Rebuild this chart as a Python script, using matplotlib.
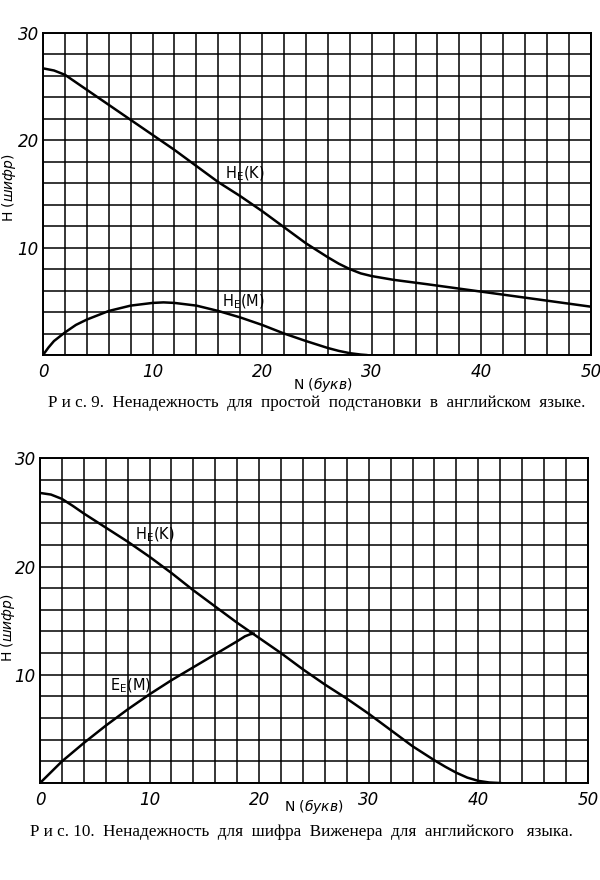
import numpy as np
import matplotlib.pyplot as plt
from matplotlib.ticker import MultipleLocator, FixedLocator

plt.rcParams['font.family'] = ['Liberation Sans Narrow', 'DejaVu Sans']

# Рис. 9: простая подстановка
n1_k = [0, 1, 2, 3, 4, 6, 8, 10, 12, 14, 16, 18, 20, 22, 24, 26, 27, 28, 29, 30, 32, 35, 40, 45, 50]
h1_k = [26.7, 26.5, 26.1, 25.4, 24.7, 23.3, 21.9, 20.5, 19.1, 17.6, 16.1, 14.8, 13.4,
        11.9, 10.4, 9.1, 8.5, 8.0, 7.6, 7.35, 7.0, 6.6, 5.9, 5.2, 4.5]
n1_m = [0, 0.5, 1, 2, 3, 4, 6, 8, 10, 11, 12, 14, 16, 18, 20, 22, 24, 26, 27, 28, 29, 29.5]
h1_m = [0, 0.7, 1.3, 2.1, 2.8, 3.3, 4.1, 4.6, 4.85, 4.9, 4.85, 4.6, 4.1, 3.5, 2.8, 2.0, 1.3,
        0.65, 0.38, 0.17, 0.04, 0.0]

# Рис. 10: шифр Виженера
n2_k = [0, 1, 2, 3, 4, 6, 8, 10, 12, 14, 16, 18, 20, 22, 24, 26, 28, 30, 32, 34, 36, 37, 38,
        39, 40, 41, 42]
h2_k = [26.8, 26.65, 26.25, 25.6, 24.9, 23.6, 22.3, 20.9, 19.4, 17.8, 16.3, 14.8, 13.4,
        12.0, 10.5, 9.1, 7.8, 6.4, 4.9, 3.4, 2.1, 1.5, 0.95, 0.5, 0.2, 0.05, 0.0]
n2_m = [0, 1, 2, 4, 6, 8, 10, 12, 14, 16, 18, 18.7, 19.2, 19.5]
h2_m = [0, 1.0, 2.0, 3.7, 5.3, 6.8, 8.2, 9.5, 10.7, 11.9, 13.1, 13.55, 13.75, 13.8]

x_ticks = [0, 10, 20, 30, 40, 50]
y_ticks = [10, 20, 30]

fig = plt.figure(figsize=(6, 8.8), dpi=100)
ax1 = fig.add_axes([0.0717, 0.5966, 0.913, 0.366])
ax2 = fig.add_axes([0.0667, 0.1102, 0.913, 0.369])

def setup(ax):
    ax.set_xlim(0, 50)
    ax.set_ylim(0, 30)
    ax.xaxis.set_major_locator(FixedLocator(x_ticks))
    ax.yaxis.set_major_locator(FixedLocator(y_ticks))
    ax.xaxis.set_minor_locator(MultipleLocator(2))
    ax.yaxis.set_minor_locator(MultipleLocator(2))
    ax.grid(which='both', color='black', linewidth=1.1)
    ax.tick_params(which='both', length=0)
    ax.tick_params(axis='x', pad=6)
    ax.tick_params(axis='y', pad=3)
    for lab in ax.get_xticklabels() + ax.get_yticklabels():
        lab.set_fontstyle('italic')
        lab.set_fontsize(12)
    for s in ax.spines.values():
        s.set_linewidth(1.4)
    ax.set_ylabel('H $\\it{(шифр)}$', fontsize=10)
    ax.set_xlabel('N $\\it{(букв)}$', fontsize=10)

setup(ax1)
ax1.yaxis.set_label_coords(-0.046, 0.52)
ax1.xaxis.set_label_coords(0.51, -0.062)
ax1.plot(n1_k, h1_k, color='black', lw=1.8)
ax1.plot(n1_m, h1_m, color='black', lw=1.8)
ax1.text(16.6, 16.9, 'H$_\\mathregular{E}$(K)', fontsize=10.5, va='center')
ax1.text(16.3, 5.0, 'H$_\\mathregular{E}$(M)', fontsize=10.5, va='center')

setup(ax2)
ax2.yaxis.set_label_coords(-0.042, 0.48)
ax2.xaxis.set_label_coords(0.50, -0.042)
ax2.plot(n2_k, h2_k, color='black', lw=1.8)
ax2.plot(n2_m, h2_m, color='black', lw=1.8)
ax2.text(8.7, 22.9, 'H$_\\mathregular{E}$(K)', fontsize=10.5, va='center')
ax2.text(6.4, 9.0, 'E$_\\mathregular{E}$(M)', fontsize=10.5, va='center')

fig.text(0.527, 0.542, 'Р и с. 9.  Ненадежность  для  простой  подстановки  в  английском  языке.',
         ha='center', va='center', fontsize=12.3, family='Liberation Serif')
fig.text(0.502, 0.054, 'Р и с. 10.  Ненадежность  для  шифра  Виженера  для  английского   языка.',
         ha='center', va='center', fontsize=12.3, family='Liberation Serif')

fig.savefig('out.png', dpi=100)
